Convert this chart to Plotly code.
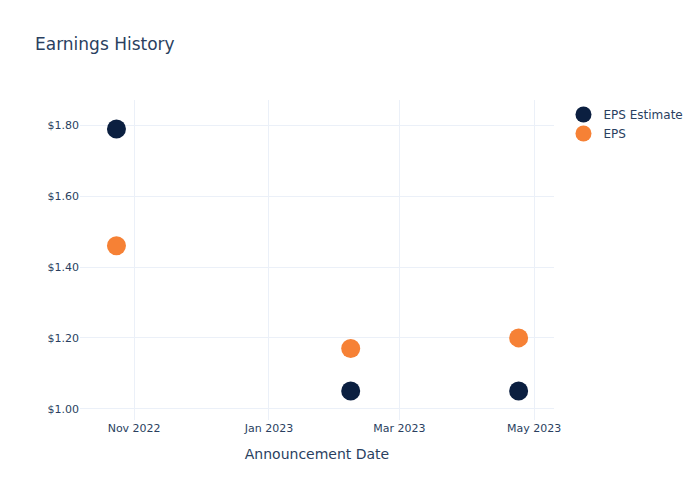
import plotly.graph_objects as go

dates = ["2022-10-24", "2023-02-07", "2023-04-24"]
eps_estimate = [1.79, 1.05, 1.05]
eps_actual = [1.46, 1.17, 1.20]

fig = go.Figure()
fig.add_trace(go.Scatter(x=dates, y=eps_estimate, mode="markers", name="EPS Estimate",
                         marker=dict(color="#0b1f40", size=19)))
fig.add_trace(go.Scatter(x=dates, y=eps_actual, mode="markers", name="EPS",
                         marker=dict(color="#f68135", size=19)))

fig.update_layout(
    template="plotly_white",
    width=700, height=500,
    font=dict(family="DejaVu Sans", color="#2a3f5f"),
    title=dict(text="Earnings History", font=dict(size=17)),
    xaxis=dict(title=dict(text="Announcement Date", font=dict(size=14)),
               tickformat="%b %Y", dtick="M2", tickfont=dict(size=11),
               range=["2022-10-07 12:00", "2023-05-10"]),
    yaxis=dict(tickprefix="$", tickformat=".2f", dtick=0.2, tickfont=dict(size=11),
               range=[0.968, 1.872]),
    legend=dict(font=dict(size=12)),
)
fig.write_html("out.html")
